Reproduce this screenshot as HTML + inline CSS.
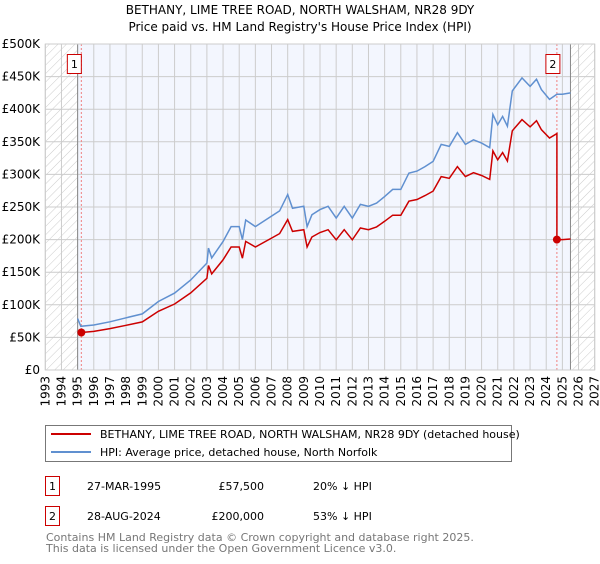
<!DOCTYPE html>
<html><head><meta charset="utf-8"><style>
body{margin:0;background:#fff;width:600px;height:560px;overflow:hidden;font-family:"DejaVu Sans","Liberation Sans",sans-serif}
svg text{font-family:"DejaVu Sans","Liberation Sans",sans-serif}
</style></head><body>
<svg id="chart" width="600" height="560" xmlns="http://www.w3.org/2000/svg">
<defs>
<pattern id="hatch" width="6" height="6" patternUnits="userSpaceOnUse" patternTransform="rotate(45)">
<line x1="0" y1="0" x2="0" y2="6" stroke="#ccc" stroke-width="1"/></pattern>
</defs>
<text x="300" y="14" text-anchor="middle" font-size="12">BETHANY, LIME TREE ROAD, NORTH WALSHAM, NR28 9DY</text>
<text x="300" y="31" text-anchor="middle" font-size="12">Price paid vs. HM Land Registry's House Price Index (HPI)</text>
<g id="plot"></g>
<rect x="45.5" y="425.5" width="466" height="36" fill="#fff" stroke="#777"/>
<line x1="51" y1="434" x2="91" y2="434" stroke="#cc0000" stroke-width="2"/>
<text x="100" y="438" font-size="11">BETHANY, LIME TREE ROAD, NORTH WALSHAM, NR28 9DY (detached house)</text>
<line x1="51" y1="452" x2="91" y2="452" stroke="#6090d0" stroke-width="2"/>
<text x="100" y="456" font-size="11">HPI: Average price, detached house, North Norfolk</text>
<g>
<rect x="45.5" y="476.5" width="14" height="19" fill="#fff" stroke="#cc0000"/>
<text x="52.5" y="490" text-anchor="middle" font-size="11">1</text>
<text x="87" y="490" font-size="11">27-MAR-1995</text>
<text x="264" y="490" text-anchor="end" font-size="11">£57,500</text>
<text x="313" y="490" font-size="11">20% ↓ HPI</text>
</g>
<g>
<rect x="45.5" y="506.5" width="14" height="19" fill="#fff" stroke="#cc0000"/>
<text x="52.5" y="520" text-anchor="middle" font-size="11">2</text>
<text x="87" y="520" font-size="11">28-AUG-2024</text>
<text x="264" y="520" text-anchor="end" font-size="11">£200,000</text>
<text x="313" y="520" font-size="11">53% ↓ HPI</text>
</g>
<text x="46" y="541" font-size="11" fill="#777">Contains HM Land Registry data © Crown copyright and database right 2025.</text>
<text x="46" y="552" font-size="11" fill="#777">This data is licensed under the Open Government Licence v3.0.</text>
</svg>
<script>
const hpiYears=[1995.0,1995.2,1996,1997,1998,1999,2000,2001,2002,2003,2003.1,2003.3,2004,2004.5,2004.7,2005,2005.2,2005.4,2006,2007,2007.5,2008,2008.3,2009,2009.2,2009.5,2010,2010.5,2011,2011.5,2012,2012.5,2013,2013.5,2014,2014.5,2015,2015.5,2016,2016.5,2017,2017.5,2018,2018.5,2019,2019.5,2020,2020.5,2020.7,2021,2021.3,2021.6,2021.9,2022.5,2023,2023.4,2023.7,2024.2,2024.66,2025,2025.5];
const hpiValues=[79,67,69,74,80,86,105,118,138,164,187,172,197,220,220,220,200,230,220,236,244,269,248,251,220,238,246,251,233,251,233,254,251,256,266,277,277,302,305,312,320,346,343,364,346,353,348,341,392,376,389,374,428,448,435,446,430,415,423,423,425];
const sales=[{year:1995.23,price:57.5},{year:2024.66,price:200}];
const yTicks=[0,50,100,150,200,250,300,350,400,450,500];
const yTickLabels=["£0","£50K","£100K","£150K","£200K","£250K","£300K","£350K","£400K","£450K","£500K"];
const xTicks=[];for(let y=1993;y<=2027;y++)xTicks.push(y);

const X0=45.3,X1=594.7,Y0=370,Y1=44,yr0=1993,yr1=2027;
const xs=v=>X0+(v-yr0)/(yr1-yr0)*(X1-X0);
const ys=v=>Y0-v/500*(Y0-Y1);
const NS="http://www.w3.org/2000/svg";
const g=document.getElementById('plot');
function mk(t,a){const e=document.createElementNS(NS,t);for(const k in a)e.setAttribute(k,a[k]);g.appendChild(e);return e;}
function interp(yr){for(let i=0;i<hpiYears.length-1;i++){if(yr>=hpiYears[i]&&yr<=hpiYears[i+1]){const f=(yr-hpiYears[i])/(hpiYears[i+1]-hpiYears[i]);return hpiValues[i]+f*(hpiValues[i+1]-hpiValues[i]);}}return hpiValues[hpiValues.length-1];}

let r=mk('rect',{x:xs(1995),y:Y1,width:xs(2025.5)-xs(1995),height:Y0-Y1,fill:'#f3f6fe'});


r=mk('rect',{x:X0,y:Y1,width:xs(1995)-X0,height:Y0-Y1,fill:'url(#hatch)'});


r=mk('rect',{x:xs(2025.5),y:Y1,width:X1-xs(2025.5),height:Y0-Y1,fill:'url(#hatch)'});


yTicks.forEach((v,i)=>{
 const l=mk('line',{x1:X0,x2:X1,y1:ys(v),y2:ys(v),stroke:'#ccc'});
 
 
 const t=mk('text',{x:40,y:ys(v)+4,'text-anchor':'end','font-size':12});
 t.textContent=yTickLabels[i];
 
 
});
xTicks.forEach(v=>{
 const l=mk('line',{x1:xs(v),x2:xs(v),y1:Y1,y2:Y0,stroke:'#ccc'});
 
 
 const t=mk('text',{x:0,y:0,'text-anchor':'end','font-size':12,transform:`translate(${xs(v)+4},376) rotate(-90)`});
 t.textContent=v;
 
 
});
let l=mk('line',{x1:xs(1995),x2:xs(1995),y1:Y1,y2:Y0,stroke:'#888'});


l=mk('line',{x1:xs(2025.5),x2:xs(2025.5),y1:Y1,y2:Y0,stroke:'#888'});


sales.forEach((s,i)=>{
 const d=mk('line',{x1:xs(s.year),x2:xs(s.year),y1:Y1,y2:Y0,stroke:'#f08080','stroke-dasharray':'2,2'});
 
 
});
// HPI line
let p='';hpiYears.forEach((y,i)=>{p+=(i?'L':'M')+xs(y).toFixed(1)+','+ys(hpiValues[i]).toFixed(1);});
let path=mk('path',{d:p,fill:'none',stroke:'#6090d0','stroke-width':1.5});


// price line: indexed on HPI from each sale
let pts=[];
const r1=sales[0].price/interp(sales[0].year), r2=sales[1].price/interp(sales[1].year);
pts.push([sales[0].year,sales[0].price]);
hpiYears.forEach((y,i)=>{if(y>sales[0].year&&y<sales[1].year)pts.push([y,hpiValues[i]*r1]);});
pts.push([sales[1].year,interp(sales[1].year)*r1]);
pts.push([sales[1].year,sales[1].price]);
hpiYears.forEach((y,i)=>{if(y>sales[1].year)pts.push([y,hpiValues[i]*r2]);});
p='';pts.forEach((q,i)=>{p+=(i?'L':'M')+xs(q[0]).toFixed(1)+','+ys(q[1]).toFixed(1);});
path=mk('path',{d:p,fill:'none',stroke:'#cc0000','stroke-width':1.5});


sales.forEach((s,i)=>{
 const c=mk('circle',{cx:xs(s.year),cy:ys(s.price),r:4,fill:'#cc0000'});
 
 
 const bx=xs(s.year)-(i==0?7:4);
 const b=mk('rect',{x:bx-7,y:54.5,width:14,height:19,fill:'#fff',stroke:'#cc0000'});
 
 
 const t=mk('text',{x:bx,y:68,'text-anchor':'middle','font-size':11});
 t.textContent=i+1;
 
 
});
const fr=mk('rect',{x:X0,y:Y1,width:X1-X0,height:Y0-Y1,fill:'none',stroke:'#ccc'});


</script>
</body></html>
